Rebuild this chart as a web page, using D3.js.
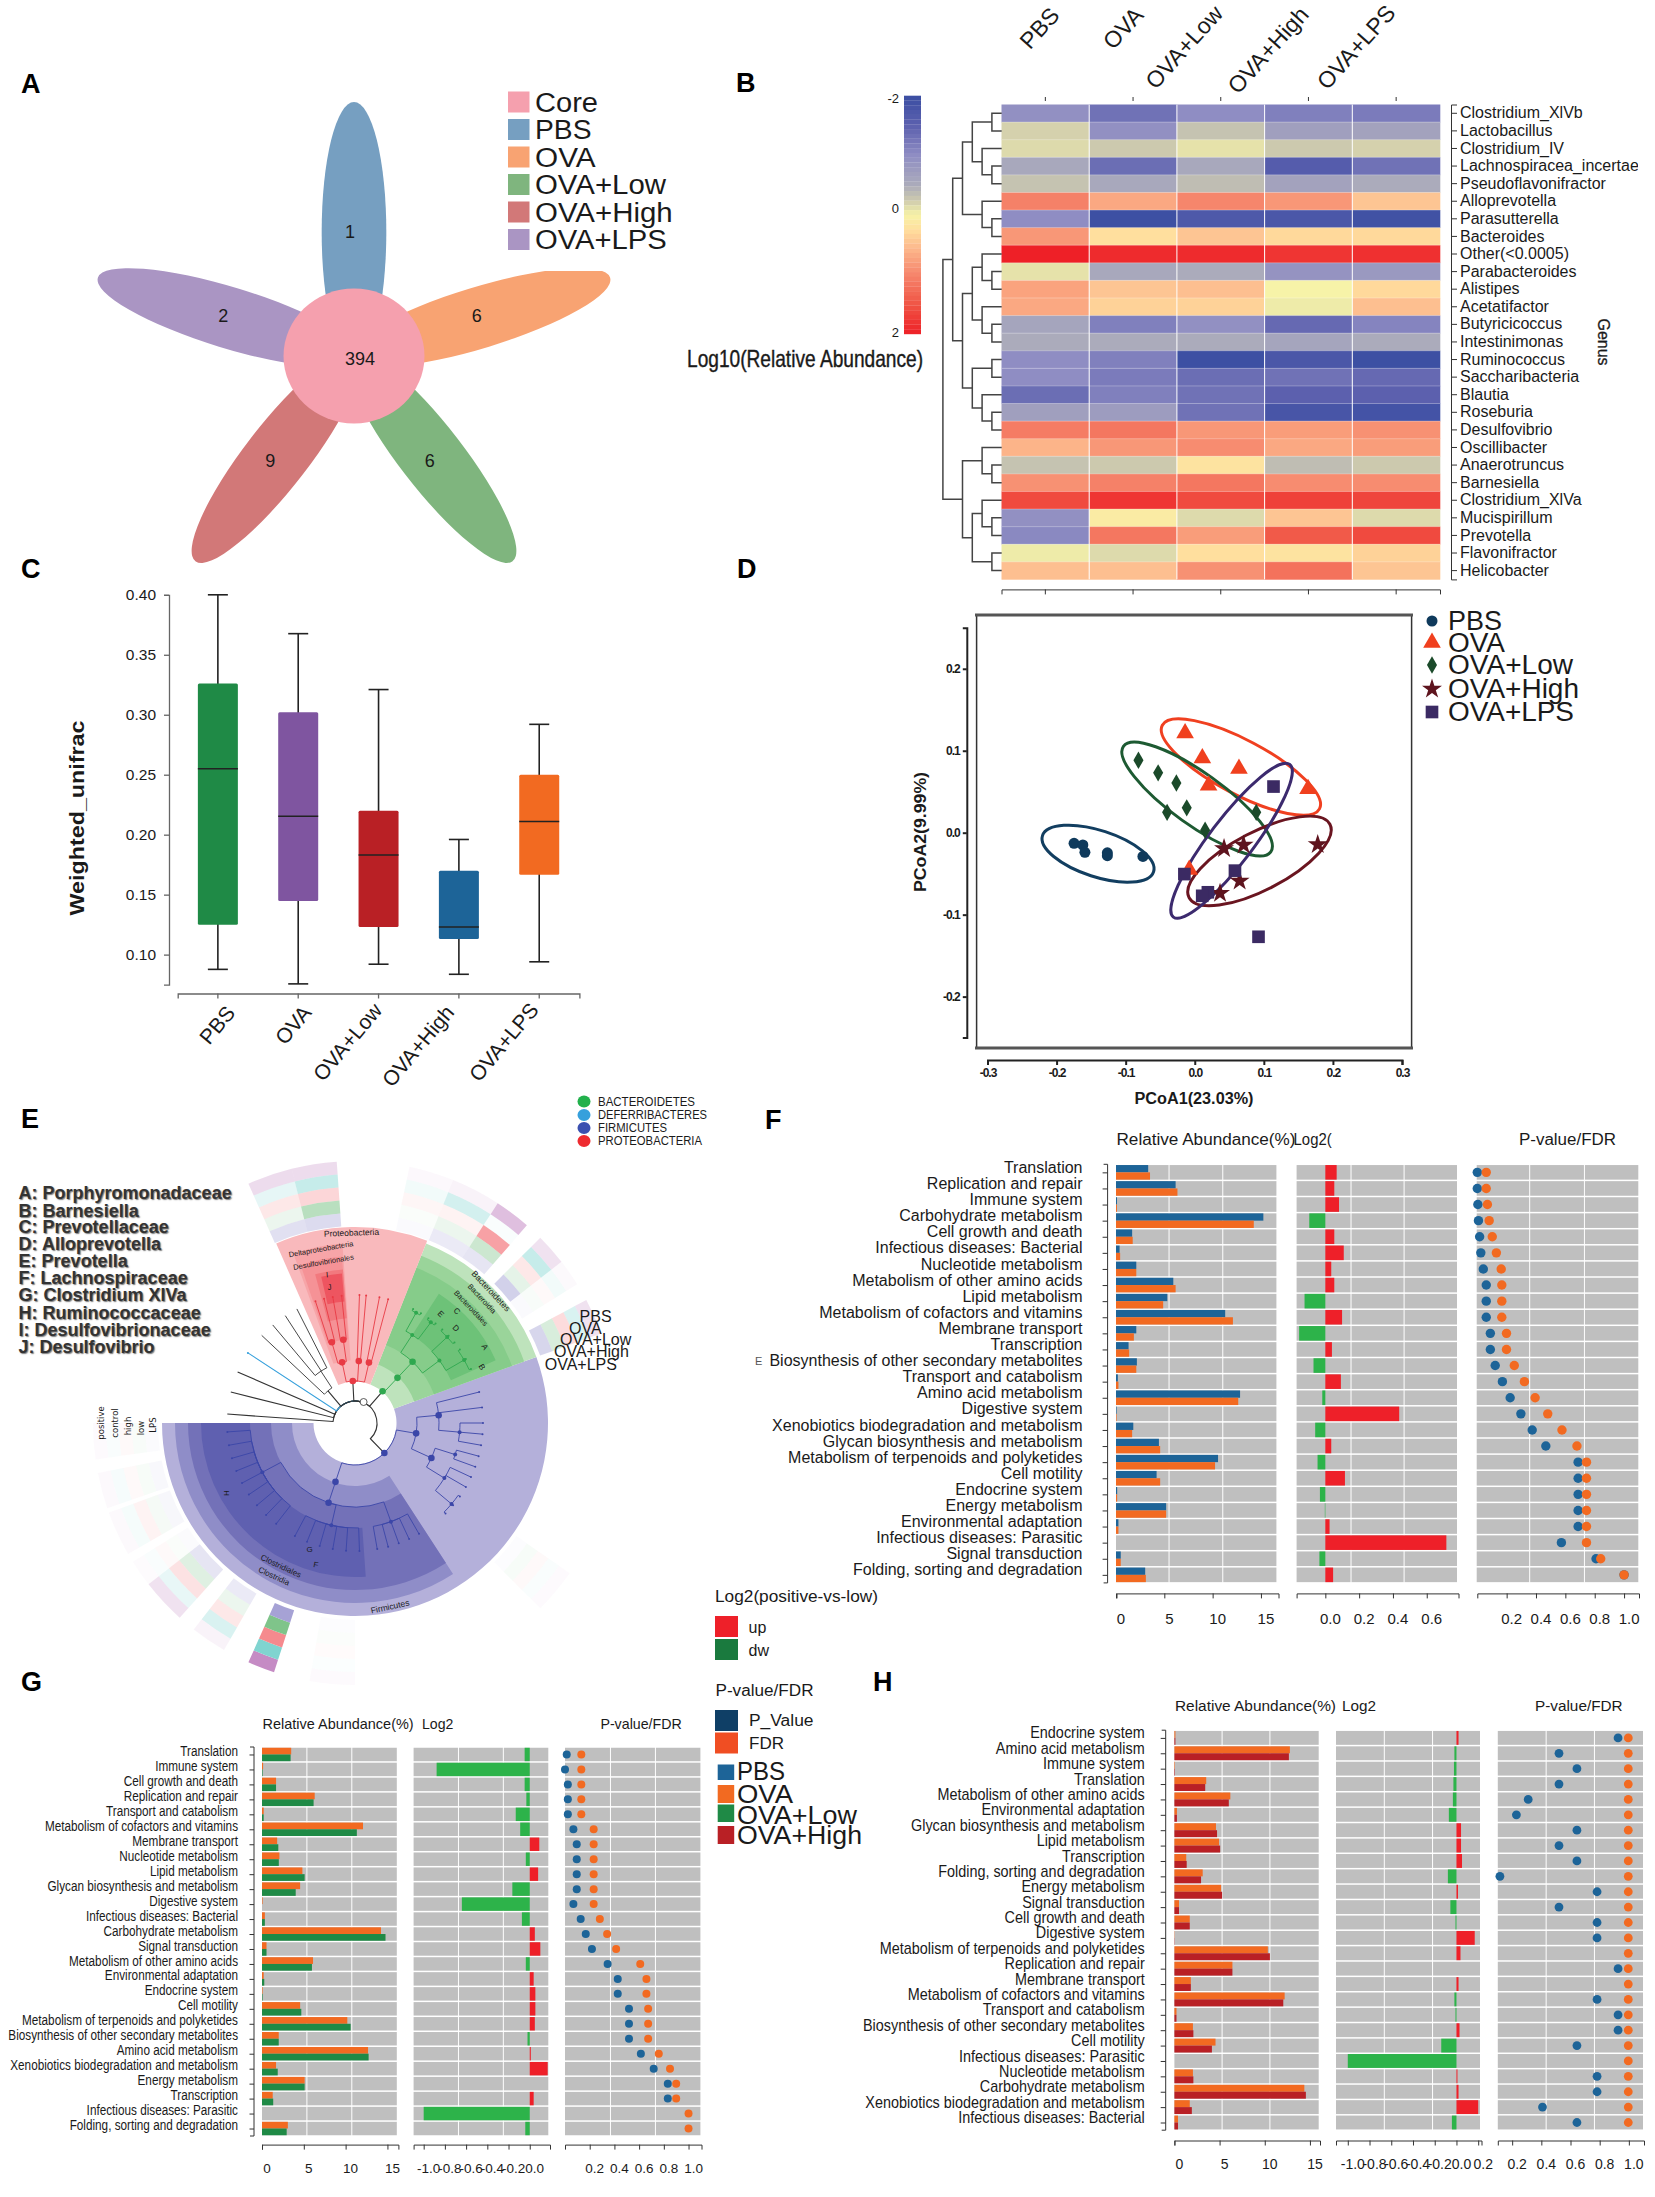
<!DOCTYPE html>
<html><head><meta charset="utf-8">
<script src="https://cdnjs.cloudflare.com/ajax/libs/d3/7.8.5/d3.min.js"></script>
<style>html,body{margin:0;padding:0;background:#fff}svg{display:block}text{font-family:"Liberation Sans",Arial,sans-serif;fill:#1a1a1a}</style>
</head><body><svg id="c" width="1655" height="2197" viewBox="0 0 1655 2197"></svg>
<script>
// ---------- Panel A
const vennNames=["PBS","OVA","OVA+Low","OVA+High","OVA+LPS"];
const vennCounts=[1,6,6,9,2];
const vennCore=394;
const vennColors=["#769FC1","#F8A372","#7FB57E","#D27878","#AA95C3"];
const coreColor="#F5A0AE";
// ---------- Panel B
const genera=["Clostridium_XlVb","Lactobacillus","Clostridium_IV","Lachnospiracea_incertae","Pseudoflavonifractor","Alloprevotella","Parasutterella","Bacteroides","Other(<0.0005)","Parabacteroides","Alistipes","Acetatifactor","Butyricicoccus","Intestinimonas","Ruminococcus","Saccharibacteria","Blautia","Roseburia","Desulfovibrio","Oscillibacter","Anaerotruncus","Barnesiella","Clostridium_XlVa","Mucispirillum","Prevotella","Flavonifractor","Helicobacter"];
const heatPBS=[-.95,-.2,-.15,-.55,-.3,1.05,-1,.85,2,-.1,.75,.7,-.6,-.5,-1,-1,-1.35,-.7,1.1,.6,-.3,.9,1.6,-.95,-1.05,-.05,.5];
const heatOVA=[-1.3,-.95,-.25,-1.35,-.55,.7,-1.95,.25,1.9,-.55,.45,.35,-1.15,-.5,-1.15,-1.2,-1.15,-.75,1.15,.85,-.25,1.05,1.8,.1,1.15,-.15,.5];
const heatLow=[-1,-.3,-.1,-.55,-.35,1,-1.7,.45,1.9,-.5,.5,.35,-.95,-.5,-1.95,-1.35,-1.3,-1.3,.85,.95,.2,1.15,1.6,-.15,.8,.25,.9];
const heatHigh=[-1.15,-.7,-.25,-1.6,-.65,.85,-1.75,.3,1.8,-.9,0,-.05,-1.4,-.6,-1.75,-1.3,-1.5,-1.8,.8,.7,-.35,.95,1.7,.45,1.45,.2,1.2];
const heatLPS=[-1.2,-.65,-.2,-1.3,-.5,.45,-1.9,.3,1.85,-.8,.3,.5,-1.1,-.5,-1.95,-1.4,-1.5,-1.85,.9,.8,-.25,.95,1.65,-.15,1.6,.35,.45];
const dendro=[6,[5,[4,[3,[1,0,1],[2,2,[1,3,4]]],[2,5,[1,6,7]]],[4,[3,[2,8,[1,9,10]],[2,11,[1,12,13]]],[3,[1,14,15],[2,16,[1,17,18]]]]],[4,[2,19,[1,20,21]],[3,[2,22,[1,23,24]],[1,25,26]]]];
// ---------- Panel C
const boxGroups=["PBS","OVA","OVA+Low","OVA+High","OVA+LPS"];
const boxLow=[.0877,.0756,.092,.0836,.094];
const boxQ1=[.125,.1448,.123,.113,.1666];
const boxMed=[.255,.2154,.183,.123,.211];
const boxQ3=[.326,.302,.22,.17,.25];
const boxHigh=[.40,.3676,.321,.196,.292];
const boxColors=["#1F8A46","#7F55A0","#B92025","#1D6498","#F26A21"];
// ---------- Panel D
const pcoaGroups=["PBS","OVA","OVA+Low","OVA+High","OVA+LPS"];
const pcoaColors=["#0F3A5C","#F0401E","#1B4A2A","#5E141E","#3B2A63"];
const ringColors=["#123E60","#F04020","#1D5A32","#6A1520","#3C2A6E"];
const pcoaPBS=[[-.1747,-.013],[-.162,-.015],[-.159,-.024],[-.1265,-.0245],[-.1265,-.028],[-.075,-.029]];
const pcoaOVA=[[-.014,.1215],[.011,.091],[.064,.078],[.02,.0576],[.164,.0534],[-.008,-.045]];
const pcoaLow=[[-.0815,.0883],[-.053,.073],[-.0266,.0606],[-.0116,.0303],[-.04,.0248],[.015,.003],[.089,.0248]];
const pcoaHigh=[[.0424,-.0193],[.0707,-.015],[.178,-.0143],[.065,-.0589],[.0366,-.074]];
const pcoaLPS=[[.114,.0563],[.0582,-.0463],[-.015,-.0505],[.019,-.0727],[.0108,-.077],[.0923,-.127]];
const ellipseCx=[-.14,.0668,.0034,.0937,.0533];
const ellipseCy=[-.0256,.0801,.0411,-.0345,-.0098];
// ---------- Panel E
const families=["A: Porphyromonadaceae","B: Barnesiella","C: Prevotellaceae","D: Alloprevotella","E: Prevotella","F: Lachnospiraceae","G: Clostridium XIVa","H: Ruminococcaceae","I: Desulfovibrionaceae","J: Desulfovibrio"];
const phyla=["BACTEROIDETES","DEFERRIBACTERES","FIRMICUTES","PROTEOBACTERIA"];
const phylaColors=["#22B14C","#36A0DC","#3B50B0","#EE2B30"];
const heatRingNames=["positive","control","high","low","LPS"];
const heatRingColors=["#C58BC4","#80D4D0","#F58A8E","#7FC48A","#9C98D0"];
// angle start, angle end, then strength for positive..LPS
const ringStrips=[[-24,-14,.3,.2,.2,.15,.3],[-14,-4,.3,.45,.35,.55,.35],[12,22,.06,.1,.08,.04,.05],[22,33,.1,.35,.1,.15,.2],[33,41,.55,.05,.8,.4,.25],[45,52,.25,.45,.2,.2,.45],[52,58,.05,.1,.05,.05,.05],[62,70,.25,.3,.3,.3,.4],[125,135,.04,.05,.05,.06,.03],[180,190,.04,.03,.03,.03,.03],[198,204,1,1,1,1,.9],[210,218,.1,.3,.2,.15,.2],[222,232,.25,.18,.25,.25,.25],[232,238,.03,.05,.05,.04,.04],[240,250,.05,.08,.1,.08,.08],[251,259,.05,.07,.05,.06,.07],[262,270,.04,.05,.05,.05,.04]];
const cladeTree=[-86,-76,-66.5,-56.8,[-46.8,[-40,-33,-27]],[[[-18,-14],[-10,-6]],[2,5],[11,15]],[[[[[27,31],[35,39]],[[43,47,51],[55,60,65]]]]],[[[76,83,[90,95,100]],[[105,110],[115,120,[125,130,135]]]],[[[150,155,160,165,170],[178,184,190,196,202,208],[218,224,230,236,242,248,254,260,266]]]]];
const cladeColors=["#333","#333","#333","#36A0DC","#333","#E83A44","#2FA84F","#3B46A8"];
const phylumAngles=[null,null,null,null,null,-3,41,135.7];
// ---------- Panels F G H
const fNames=["Translation","Replication and repair","Immune system","Carbohydrate metabolism","Cell growth and death","Infectious diseases: Bacterial","Nucleotide metabolism","Metabolism of other amino acids","Lipid metabolism","Metabolism of cofactors and vitamins","Membrane transport","Transcription","Biosynthesis of other secondary metabolites","Transport and catabolism","Amino acid metabolism","Digestive system","Xenobiotics biodegradation and metabolism","Glycan biosynthesis and metabolism","Metabolism of terpenoids and polyketides","Cell motility","Endocrine system","Energy metabolism","Environmental adaptation","Infectious diseases: Parasitic","Signal transduction","Folding, sorting and degradation"];
const fPBS=[3.33,6.17,.1,15.25,1.67,.37,2.1,5.93,5.31,11.3,2.1,1.3,2.16,.19,12.84,.06,1.79,4.44,10.56,4.2,.12,5.19,.25,0,.49,3.02];
const fOVA=[3.52,6.36,.1,14.26,1.73,.43,2.1,6.17,4.88,12.1,1.85,1.36,2.1,.25,12.65,.06,1.67,4.57,10.25,4.57,.12,5.19,.25,0,.49,3.09];
const fLog=[.067,.053,.081,-.095,.053,.109,.035,.053,-.123,.099,-.155,.039,-.07,.092,-.018,.437,-.06,.035,-.046,.116,-.032,-.003,.025,.716,-.035,.046];
const fP=[0,0,.004,.008,.016,.024,.041,.061,.061,.061,.089,.089,.122,.171,.224,.297,.374,.467,.687,.687,.687,.687,.687,.573,.809,1];
const fFDR=[.061,.061,.069,.081,.102,.13,.163,.167,.167,.167,.199,.199,.252,.321,.394,.48,.577,.679,.744,.744,.744,.744,.744,.744,.841,1];
const gNames=["Translation","Immune system","Cell growth and death","Replication and repair","Transport and catabolism","Metabolism of cofactors and vitamins","Membrane transport","Nucleotide metabolism","Lipid metabolism","Glycan biosynthesis and metabolism","Digestive system","Infectious diseases: Bacterial","Carbohydrate metabolism","Signal transduction","Metabolism of other amino acids","Environmental adaptation","Endocrine system","Cell motility","Metabolism of terpenoids and polyketides","Biosynthesis of other secondary metabolites","Amino acid metabolism","Xenobiotics biodegradation and metabolism","Energy metabolism","Transcription","Infectious diseases: Parasitic","Folding, sorting and degradation"];
const gOVA=[3.49,.13,1.68,6.3,.2,12.08,1.81,2.08,4.83,4.56,.07,.34,14.23,.54,6.1,.2,.07,4.56,10.2,2,12.68,1.68,5.1,1.28,0,3.09];
const gLow=[3.42,.07,1.68,6.17,.2,11.34,1.95,2.01,5.1,4.03,0,.34,14.77,.54,5.97,.27,.07,4.7,10.6,2,12.75,1.88,5.1,1.34,0,2.95];
const gLog=[-.048,-.878,-.048,-.032,-.132,-.09,.09,-.037,.079,-.164,-.64,-.074,.048,.1,-.037,.037,.053,.053,.048,-.021,.01,.169,0,.037,-1,-.042];
const gP=[.014,0,.023,.023,.023,.068,.095,.095,.095,.095,.068,.127,.168,.218,.345,.427,.427,.518,.518,.518,.614,.718,.832,.832,null,null];
const gFDR=[.132,.132,.132,.132,.132,.232,.232,.232,.232,.232,.232,.282,.341,.414,.609,.659,.659,.673,.673,.673,.759,.85,.9,.9,1,1];
const hNames=["Endocrine system","Amino acid metabolism","Immune system","Translation","Metabolism of other amino acids","Environmental adaptation","Glycan biosynthesis and metabolism","Lipid metabolism","Transcription","Folding, sorting and degradation","Energy metabolism","Signal transduction","Cell growth and death","Digestive system","Metabolism of terpenoids and polyketides","Replication and repair","Membrane transport","Metabolism of cofactors and vitamins","Transport and catabolism","Biosynthesis of other secondary metabolites","Cell motility","Infectious diseases: Parasitic","Nucleotide metabolism","Carbohydrate metabolism","Xenobiotics biodegradation and metabolism","Infectious diseases: Bacterial"];
const hOVA=[.11,12.78,.06,3.52,6.19,.28,4.6,4.94,1.31,3.13,5.17,.51,1.7,.03,10.34,6.42,1.82,12.2,.23,2.05,4.55,0,2.05,14.38,1.7,.4];
const hHigh=[.11,12.67,.06,3.41,6.02,.28,4.72,5.06,1.36,2.95,5.28,.51,1.7,.03,10.57,6.42,1.82,12.05,.23,2.1,4.15,0,2.1,14.55,1.93,.4];
const hLog=[.019,-.019,-.023,-.028,-.033,-.07,.042,.042,.051,-.079,.014,-.056,-.009,.168,.037,0,.019,-.019,-.009,.028,-.14,-1,.009,.019,.2,-.042];
const hP=[.926,.521,.644,.521,.31,.229,.644,.521,.644,.116,.782,.521,.782,.782,null,.926,null,.782,.926,.926,.644,null,.782,.782,.408,.644];
const hFDR=[.996,.996,.996,.996,.996,.996,.996,.996,.996,.996,.996,.996,.996,.996,.996,.996,.996,.996,.996,.996,.996,.996,.996,.996,.996,.996];
const C={blue:"#1D6498",orange:"#F26A21",green:"#1F8A46",red:"#B92025",up:"#EE2029",dn:"#2DB34A"};

const svg=d3.select("#c");
function T(g,txt,x,y,o={}){
  const t=g.append("text").text(txt).attr("dy",o.dy||"0.35em").attr("font-size",o.s||14)
   .attr("text-anchor",o.a||"start").attr("font-weight",o.w||"normal");
  let tr=`translate(${x},${y})`; if(o.r)tr+=` rotate(${o.r})`; if(o.sx)tr+=` scale(${o.sx},1)`;
  t.attr("transform",tr);
  if(o.fill)t.style("fill",o.fill);
  if(o.len)t.attr("textLength",o.len).attr("lengthAdjust","spacingAndGlyphs");
  if(o.shadow)t.style("text-shadow","1px 1px 1.2px #777");
  if(o.heavy)t.style("stroke","#1a1a1a").style("stroke-width",o.heavy);
  return t;
}
// panel letters
[["A",21,93],["B",736,92],["C",21,578],["D",737,578],["E",21,1128],["F",765,1129],["G",21,1691],["H",873,1691]].forEach(d=>T(svg,d[0],d[1],d[2],{s:27,w:"bold",dy:"0",fill:"#000"}));

// ================= A
(function(){
 const g=svg.append("g"),cx=354,cy=356;
 svg.append("clipPath").attr("id","ovaClip").append("rect").attr("x",400).attr("y",271).attr("width",300).attr("height",200);
 vennNames.forEach((n,i)=>{
   const gp=g.append("g"); if(i==1)gp.attr("clip-path","url(#ovaClip)");
   gp.append("ellipse").attr("cx",0).attr("cy",-124).attr("rx",30.5).attr("ry",130).attr("fill",vennColors[i])
    .attr("transform",`translate(${cx},${cy}) scale(1.06,1) rotate(${i*72})`);
 });
 g.append("ellipse").attr("cx",cx).attr("cy",cy).attr("rx",70.5).attr("ry",67.5).attr("fill",coreColor);
 const pos=d3.scalePoint().domain(d3.range(5)).range([0,288]);
 vennCounts.forEach((c,i)=>{
   const [dx,dy]=d3.pointRadial(pos(i)*Math.PI/180,i==0?124:129);
   T(g,c,cx+dx-(i==0?4:i>=3?8:0),cy+dy,{s:18,a:"middle"});
 });
 T(g,vennCore,360,359,{s:18,a:"middle"});
 const names=["Core"].concat(vennNames),cols=[coreColor].concat(vennColors),lens=[63,56.5,60.6,131,137.7,131.8];
 const yy=d3.scalePoint().domain(d3.range(6)).range([102,239.5]);
 names.forEach((n,i)=>{
  g.append("rect").attr("x",508).attr("y",yy(i)-10.5).attr("width",21.5).attr("height",21).attr("fill",cols[i]);
  T(g,n,535,yy(i)+.5,{s:27,len:lens[i]});
 });
})();

// ================= B
(function(){
 const g=svg.append("g");
 const heat=[heatPBS,heatOVA,heatLow,heatHigh,heatLPS];
 const color=d3.scaleLinear().domain([-2,-1.5,-1,-.5,-.25,0,.25,.5,1,1.5,2])
  .range(["#3A4EA2","#5C60AE","#8F8DC3","#ABABBB","#CCC9AE","#F7F3A8","#FFDF9E","#FDBF90","#F6866C","#F05545","#EE2027"]);
 const x=d3.scaleBand().domain(vennNames).range([1001.5,1440]);
 const y=d3.scaleBand().domain(genera).range([104.5,579.4]);
 vennNames.forEach((c,j)=>genera.forEach((r,i)=>{
  g.append("rect").attr("x",x(c)).attr("y",y(r)).attr("width",x.bandwidth()+.3).attr("height",y.bandwidth()+.3).attr("fill",color(heat[j][i]));
 }));
 vennNames.slice(1).forEach(c=>g.append("line").attr("x1",x(c)).attr("x2",x(c)).attr("y1",104.5).attr("y2",579.4).attr("stroke","#fff").attr("stroke-width",1));
 genera.slice(1).forEach(r=>g.append("line").attr("x1",1001.5).attr("x2",1440).attr("y1",y(r)).attr("y2",y(r)).attr("stroke","#fff").attr("stroke-opacity",.35).attr("stroke-width",.8));
 const ax=sel=>sel.selectAll("path,line").attr("stroke","#333");
 g.append("g").attr("transform","translate(0,101)").call(d3.axisTop(x).tickSize(4).tickFormat("")).call(ax).select("path").attr("stroke","none");
 g.append("g").attr("transform","translate(0,589.4)").call(d3.axisBottom(x).tickSize(5).tickFormat("")).call(ax);
 svg.append("clipPath").attr("id","genClip").append("rect").attr("x",1440).attr("y",90).attr("width",198).attr("height",500);
 const ra=g.append("g").attr("clip-path","url(#genClip)").append("g").attr("transform","translate(1451,0)").call(d3.axisRight(y).tickSize(6).tickPadding(3));
 ra.call(ax); ra.selectAll("text").attr("font-size",16).attr("font-family","Liberation Sans");
 T(g,"Genus",1603.5,342,{s:16,a:"middle",r:90,heavy:.3});
 [[1039.5,28],[1123,28],[1184,47],[1268,50],[1356,47]].forEach((p,i)=>T(g,vennNames[i],p[0],p[1],{s:23,a:"middle",r:-48}));
 const root=d3.hierarchy(dendro,d=>Array.isArray(d)?d.slice(1):null);
 const lx=d3.scaleLinear().domain([0,6]).range([1001.7,942.9]);
 root.eachAfter(n=>{
  if(!n.children){n.py=y(genera[n.data])+y.bandwidth()/2;n.px=lx(0);}
  else{n.py=d3.mean(n.children,c=>c.py);n.px=lx(n.data[0]);}
 });
 root.descendants().forEach(n=>{ if(n.children){
  const p=d3.path(); p.moveTo(n.children[0].px,n.children[0].py); p.lineTo(n.px,n.children[0].py); p.lineTo(n.px,n.children[1].py); p.lineTo(n.children[1].px,n.children[1].py);
  g.append("path").attr("d",p.toString()).attr("fill","none").attr("stroke","#444").attr("stroke-width",1.5);
 }});
 const cb=d3.scaleLinear().domain([-2,2]).range([95.7,334]);
 d3.range(-2,2,.08).forEach(v=>g.append("rect").attr("x",904).attr("width",17).attr("y",cb(v)).attr("height",cb(v+.08)-cb(v)+.2).attr("fill",color(v+.04)));
 [["-2",98],["0",208],["2",332]].forEach(d=>T(g,d[0],899,d[1],{s:13,a:"end"}));
 T(g,"Log10(Relative Abundance)",687,358.6,{s:24,len:236,heavy:.4});
})();

// ================= C
(function(){
 const g=svg.append("g");
 const y=d3.scaleLinear().domain([.075,.40]).range([984.6,594.8]);
 const x=d3.scaleBand().domain(boxGroups).range([177.7,579.4]);
 const ya=g.append("g").attr("transform","translate(169,0)").call(d3.axisLeft(y).tickValues([.1,.15,.2,.25,.3,.35,.4]).tickFormat(d3.format(".2f")).tickSize(5).tickPadding(8));
 const xa=g.append("g").attr("transform","translate(0,993.5)").call(d3.axisBottom(x).tickFormat("").tickSize(5));
 [ya,xa].forEach(a=>a.selectAll("path,line").attr("stroke","#666").attr("stroke-width",1.3));
 ya.selectAll("text").attr("font-size",15.5).attr("font-family","Liberation Sans");
 const bw=40,cw=10;
 boxGroups.forEach((b,i)=>{
  const c=x(b)+x.bandwidth()/2;
  const L=(a,b1,x1,x2,w)=>g.append("line").attr("x1",x1).attr("x2",x2).attr("y1",y(a)).attr("y2",y(b1)).attr("stroke","#222").attr("stroke-width",w||1.6);
  L(boxLow[i],boxHigh[i],c,c);
  L(boxLow[i],boxLow[i],c-cw,c+cw); L(boxHigh[i],boxHigh[i],c-cw,c+cw);
  g.append("rect").attr("x",c-bw/2).attr("y",y(boxQ3[i])).attr("width",bw).attr("height",y(boxQ1[i])-y(boxQ3[i])).attr("rx",1.5).attr("fill",boxColors[i]);
  L(boxMed[i],boxMed[i],c-bw/2,c+bw/2);
 });
 T(g,"Weighted_unifrac",77,818,{s:21,a:"middle",r:-90,w:"bold",len:195});
 [[217,1025],[293,1025],[347.5,1042],[418,1046],[503.7,1042]].forEach((p,i)=>T(g,boxGroups[i],p[0],p[1],{s:21,a:"middle",r:-50}));
})();

// ================= D
(function(){
 const g=svg.append("g");
 const x=d3.scaleLinear().domain([-.3,.3]).range([987.5,1402]);
 const y=d3.scaleLinear().domain([-.25,.25]).range([1037.6,627.8]);
 g.append("rect").attr("x",976.6).attr("y",615).attr("width",435).attr("height",433).attr("fill","none").attr("stroke","#333").attr("stroke-width",1.5);
 [615,1048].forEach(v=>g.append("line").attr("x1",975).attr("x2",1413).attr("y1",v).attr("y2",v).attr("stroke","#555").attr("stroke-width",3.2));
 const fmt=v=>d3.format(".1f")(v).replace("−","-");
 const ya=g.append("g").attr("transform","translate(966.8,0)").call(d3.axisLeft(y).tickValues([-.2,-.1,0,.1,.2]).tickFormat(fmt).tickSize(4).tickPadding(3));
 const xa=g.append("g").attr("transform","translate(0,1060)").call(d3.axisBottom(x).tickValues([-.3,-.2,-.1,0,.1,.2,.3]).tickFormat(fmt).tickSize(5).tickPadding(3));
 [ya,xa].forEach(a=>{a.selectAll("path,line").attr("stroke","#222").attr("stroke-width",2);
  a.selectAll("text").attr("font-size",12).attr("font-weight","bold").attr("font-family","Liberation Sans").style("letter-spacing","-1px");});
 T(g,"PCoA1(23.03%)",1194,1098,{s:16,w:"bold",a:"middle",len:119});
 T(g,"PCoA2(9.99%)",920,832,{s:16,w:"bold",a:"middle",r:-90,len:120});
 const axes=[[58.4,23.2,18],[89,27,28],[90.6,26,35.6],[79.4,29,-27.5],[96,22,-52.7]];
 pcoaGroups.forEach((n,i)=>g.append("ellipse").attr("rx",axes[i][0]).attr("ry",axes[i][1])
  .attr("transform",`translate(${x(ellipseCx[i])},${y(ellipseCy[i])}) rotate(${axes[i][2]})`)
  .attr("fill","none").attr("stroke",ringColors[i]).attr("stroke-width",3));
 const sym=[d3.symbol().type(d3.symbolCircle).size(95)(),d3.symbol().type(d3.symbolTriangle).size(135)(),d3.symbol().type(d3.symbolDiamond).size(88)(),d3.symbol().type(d3.symbolStar).size(124)(),d3.symbol().type(d3.symbolSquare).size(160)()];
 [pcoaPBS,pcoaOVA,pcoaLow,pcoaHigh,pcoaLPS].forEach((pts,i)=>pts.forEach(p=>
   g.append("path").attr("d",sym[i]).attr("transform",`translate(${x(p[0])},${y(p[1])})`).attr("fill",pcoaColors[i])));
 const ly=[621,642.6,665,689,712],ll=[54,57,125,131,126];
 pcoaGroups.forEach((n,i)=>{
   g.append("path").attr("d",sym[i]).attr("transform",`translate(1432,${ly[i]})`).attr("fill",pcoaColors[i]);
   T(g,n,1448,ly[i],{s:27,len:ll[i]});
 });
})();

// ================= E
(function(){
 const g=svg.append("g").attr("transform","translate(355,1423)");
 const rad=a=>a*Math.PI/180;
 const arc=d3.arc();
 const sec=(r0,r1,a0,a1,f)=>g.append("path").attr("d",arc({innerRadius:r0,outerRadius:r1,startAngle:rad(a0),endAngle:rad(a1)})).attr("fill",f);
 const ringR=d3.scaleBand().domain(heatRingNames).range([262,197]);
 ringStrips.forEach(s=>heatRingNames.forEach((n,i)=>{
   g.append("path").attr("d",arc({innerRadius:ringR(n),outerRadius:ringR(n)+ringR.bandwidth(),startAngle:rad(s[0]),endAngle:rad(s[1])}))
    .attr("fill",heatRingColors[i]).attr("fill-opacity",s[2+i]);
 }));
 sec(41.5,193,70,270,"#B4B0DA");
 sec(63,180,147,270,"#8F8DC8"); sec(84,167,147,270,"#7371B8"); sec(105,154,176,270,"#5F60B0");
 sec(41.5,193,21.6,70,"#BEE3BC"); sec(63,180,21.6,70,"#9AD49A"); sec(84,167,21.6,70,"#86CC8A"); sec(105,154,33,66,"#6DC278");
 sec(41.5,196,-23.7,21.6,"#F9B9BC"); sec(63,180,-20,-4,"#F7A5A8"); sec(84,167,-19,-4.5,"#F59296"); sec(105,154,-15,-4.5,"#F2797E"); sec(122,150,-13,-5,"#EE5560");
 const R=[22,42,62,84,105,126,126];
 const leafR=128;
 const root=d3.hierarchy(cladeTree,d=>Array.isArray(d)?d:null);
 root.children.forEach((c,i)=>c.descendants().forEach(n=>n.col=cladeColors[i]));
 root.col="#333";
 root.eachAfter(n=>{ if(!n.children){n.a=n.data;n.r=leafR;} else {n.a=d3.mean(n.children,c=>c.a);n.r=R[n.depth];} });
 root.a=22;
 root.children.forEach((c,i)=>{if(phylumAngles[i]!==null)c.a=phylumAngles[i];});
 root.descendants().forEach(n=>{ if(n.parent){
   const p=n.parent,pth=d3.path(),s=d3.pointRadial(rad(p.a),p.r);
   pth.moveTo(s[0],s[1]);
   pth.arc(0,0,p.r,rad(p.a-90),rad(n.a-90),n.a<p.a);
   const e=d3.pointRadial(rad(n.a),n.r); pth.lineTo(e[0],e[1]);
   g.append("path").attr("d",pth.toString()).attr("fill","none").attr("stroke",(n.depth==1&&n.col!=="#36A0DC")?"#333":n.col).attr("stroke-width",n.depth<=1?1.1:.9);
 }});
 root.descendants().forEach(n=>{ if(n.depth>0&&n.col!=="#333"){
   const p=d3.pointRadial(rad(n.a),n.r);
   const r=n.children?(n.depth<=3?3.3:2):1;
   g.append("circle").attr("cx",p[0]).attr("cy",p[1]).attr("r",r).attr("fill",n.col);
 }});
 g.append("circle").attr("cx",8.6).attr("cy",-21).attr("r",3.5).attr("fill","#fff").attr("stroke","#333").attr("stroke-width",.8);
 const L=(t,x,y,r,s)=>T(svg,t,x,y,{s:s||8.5,a:"middle",r:r});
 L("Proteobacteria",351.5,1232.7,-2);L("Deltaproteobacteria",321,1249,-10,7.5);L("Desulfovibrionales",323.5,1262,-10,7.5);L("I",327,1274.5,-5,8);L("J",329.6,1287,-5,8);
 L("Bacteroidetes",491,1291,47);L("Bacteroidia",482,1298.6,47,7.5);L("Bacteroidales",471,1308,47,7.5);
 L("E",441,1314,45,8);L("C",457,1311,45,8);L("D",456,1328,45,8);L("A",485,1347,60,8);L("B",482,1367,60,8);
 L("Clostridiales",281,1566,25,8);L("Clostridia",274,1576,25,8);L("Firmicutes",390,1606.6,-12);L("H",226,1493,-90,8);L("F",316,1564.6,10,8);L("G",309.6,1549,0,8);
 [[101.5,1423],[115,1423],[128,1426],[140.6,1428],[152.7,1425]].forEach((p,i)=>T(svg,heatRingNames[i],p[0],p[1],{s:8.5,a:"middle",r:-90}).style("font-family","DejaVu Sans"));
 const fy=[1193,1210.5,1227,1244,1261,1278,1295,1313,1330,1347];
 families.forEach((f,i)=>T(svg,f,18.6,fy[i],{s:18,w:"bold",shadow:true,fill:"#333"}));
 const py=[1101.5,1115,1128,1141],pl=[97,109,69,104];
 phyla.forEach((p,i)=>{svg.append("ellipse").attr("cx",584).attr("cy",py[i]).attr("rx",6.5).attr("ry",6).attr("fill",phylaColors[i]);
   T(svg,p,598,py[i],{s:12,len:pl[i]});});
 [["PBS",579.6,1316.6],["OVA",569,1328],["OVA+Low",560,1339.5],["OVA+High",554,1351],["OVA+LPS",544.7,1364.4]].forEach(d=>T(svg,d[0],d[1],d[2],{s:16}));
})();

// ================= F G H
function pathway(o){
 const g=svg.append("g");
 const rows=d3.scaleBand().domain(d3.range(o.names.length)).range([o.top,o.bottom]);
 const pitch=rows.bandwidth(),rh=pitch-1.5;
 const cy=i=>rows(i)+pitch/2;
 const panels=o.panels.map(p=>{
   const sc=d3.scaleLinear().domain(p.dom).range(p.rng);
   o.names.forEach((n,i)=>g.append("rect").attr("x",p.rng[0]).attr("width",p.rng[1]-p.rng[0]).attr("y",cy(i)-rh/2).attr("height",rh).attr("fill","#BFBFBF"));
   p.grid.forEach(v=>g.append("line").attr("x1",sc(v)).attr("x2",sc(v)).attr("y1",o.top).attr("y2",o.bottom).attr("stroke","#fff").attr("stroke-width",1));
   const axS=d3.scaleLinear().domain([sc.invert(p.ax[0]),sc.invert(p.ax[1])]).range(p.ax);
   const a=g.append("g").attr("transform",`translate(0,${o.axisY})`).call(d3.axisBottom(axS).tickValues(p.ticks).tickSize(5).tickFormat(d=>d3.format(p.fmt)(d).replace("−","-")));
   a.selectAll("path,line").attr("stroke","#333");
   a.selectAll("text").attr("font-size",o.tickS).attr("font-family","Liberation Sans").attr("x",o.tickDx).attr("y",o.tickY-o.axisY).attr("dy","0.35em").attr("fill","#1a1a1a");
   return sc;
 });
 o.names.forEach((n,i)=>T(g,n,o.labelX,cy(i)+o.labelDy,{s:o.labelS,a:"end",sx:o.labelSx}));
 const br=d3.scalePoint().domain(o.names).range([cy(0),cy(o.names.length-1)]);
 const ba=g.append("g").attr("transform",`translate(${o.bracket},0)`).call(d3.axisLeft(br).tickSize(o.tickL).tickFormat(""));
 ba.selectAll("line").attr("stroke","#333"); ba.select("path").remove();
 g.append("path").attr("d",`M${o.bracket-4},${o.top}H${o.bracket}V${o.bottom}H${o.bracket-4}`).attr("fill","none").attr("stroke","#333");
 const [x1,x2,x3]=panels;
 o.names.forEach((n,i)=>{
  g.append("rect").attr("x",x1(0)).attr("y",cy(i)-rh/2).attr("width",x1(o.a[i])-x1(0)).attr("height",rh/2).attr("fill",o.colA);
  g.append("rect").attr("x",x1(0)).attr("y",cy(i)).attr("width",x1(o.b[i])-x1(0)).attr("height",rh/2).attr("fill",o.colB);
  const v=o.log[i];
  g.append("rect").attr("x",Math.min(x2(0),x2(v))).attr("y",cy(i)-rh/2).attr("width",Math.abs(x2(v)-x2(0))).attr("height",rh).attr("fill",v>=0?C.up:C.dn);
  if(o.p[i]!==null)g.append("circle").attr("cx",x3(o.p[i])).attr("cy",cy(i)).attr("r",o.dotR).attr("fill",C.blue);
  if(o.f[i]!==null)g.append("circle").attr("cx",x3(o.f[i])).attr("cy",cy(i)).attr("r",o.dotR).attr("fill",C.orange);
 });
 o.titles.forEach(t=>T(g,t[0],t[1],o.titleY,{s:o.titleS,len:t[2]}));
}
const t02=[.2,.4,.6,.8,1];
pathway({names:fNames,a:fPBS,b:fOVA,log:fLog,p:fP,f:fFDR,colA:C.blue,colB:C.orange,top:1164.3,bottom:1582.9,labelX:1082.5,labelDy:-5,labelS:16,labelSx:1,bracket:1107.6,tickL:5,axisY:1593.4,tickY:1618.4,tickS:15,tickDx:4.5,dotR:4.7,titleY:1139,titleS:16,
 titles:[["Relative Abundance(%)",1116.5,179],["Log2(",1293.6,38],["P-value/FDR",1519,97]],
 panels:[{dom:[0,16.6],rng:[1116,1276.4],ax:[1116.5,1278.5],ticks:[0,5,10,15],fmt:"d",grid:[5.49,11.05]},
  {dom:[-.17,.779],rng:[1296.6,1457],ax:[1296.6,1458.5],ticks:[0,.2,.4,.6],fmt:".1f",grid:[.152,.466]},
  {dom:[-.004,1.097],rng:[1476.7,1638.3],ax:[1477.3,1639],ticks:t02,fmt:".1f",grid:[.357,.73]}]});
T(svg,"E",755,1361,{s:11,fill:"#555"});
pathway({names:gNames,a:gOVA,b:gLow,log:gLog,p:gP,f:gFDR,colA:C.orange,colB:C.green,top:1747,bottom:2136,labelX:238,labelDy:-3.5,labelS:14.5,labelSx:.81,bracket:254,tickL:4.5,axisY:2144.6,tickY:2168.6,tickS:13.5,tickDx:4.5,dotR:4,titleY:1724,titleS:15,
 titles:[["Relative Abundance(%)",262.6,151],["Log2",422,31.4],["P-value/FDR",600.4,81.4]],
 panels:[{dom:[0,16.12],rng:[262,396.8],ax:[262,398.4],ticks:[0,5,10,15],fmt:"d",grid:[5.37,10.74]},
  {dom:[-1.095,.175],rng:[413.6,548.3],ax:[413.6,550],ticks:[-1,-.8,-.6,-.4,-.2,0],fmt:".1f",grid:[-.672,-.249]},
  {dom:[0,1.096],rng:[565,700.4],ax:[565,701.5],ticks:t02,fmt:".1f",grid:[.368,.732]}]});
pathway({names:hNames,a:hOVA,b:hHigh,log:hLog,p:hP,f:hFDR,colA:C.orange,colB:C.red,top:1730.2,bottom:2130.2,labelX:1144.7,labelDy:-5,labelS:16,labelSx:.9,bracket:1165.7,tickL:5,axisY:2140.5,tickY:2164,tickS:14,tickDx:4.5,dotR:4.4,titleY:1706,titleS:15.5,
 titles:[["Relative Abundance(%)",1175,161],["Log2",1342,34],["P-value/FDR",1535,87.6]],
 panels:[{dom:[0,15.97],rng:[1174.4,1318.7],ax:[1174.4,1320],ticks:[0,5,10,15],fmt:"d",grid:[5.28,10.57]},
  {dom:[-1.1085,.2166],rng:[1336,1480],ax:[1336,1481.5],ticks:[-1,-.8,-.6,-.4,-.2,0,.2],fmt:".1f",grid:[-.664,-.22]},
  {dom:[.1015,1.097],rng:[1497.8,1643],ax:[1497.8,1644],ticks:t02,fmt:".1f",grid:[.433,.764]}]});

// shared legends
(function(){
 const g=svg.append("g");
 T(g,"Log2(positive-vs-low)",715,1596,{s:16,len:163});
 [["up","#EE2029",1616],["dw","#1A7A3E",1639]].forEach(d=>{
  g.append("rect").attr("x",715).attr("y",d[2]).attr("width",23).attr("height",21).attr("fill",d[1]);
  T(g,d[0],748.6,d[2]+11,{s:16});
 });
 T(g,"P-value/FDR",715.5,1690,{s:16,len:98});
 [["P_Value","#0F3F66",1710,64.5],["FDR","#F04E23",1732.5,35]].forEach(d=>{
  g.append("rect").attr("x",715).attr("y",d[2]).attr("width",23).attr("height",21).attr("fill",d[1]);
  T(g,d[0],749,d[2]+10.5,{s:16,len:d[3]});
 });
 const ln=["PBS","OVA","OVA+Low","OVA+High"],lc=[C.blue,C.orange,C.green,C.red],ly=[1764.5,1785,1804.5,1826],lh=[15.5,18,17.5,18],lt=[1771,1794,1815,1835],lw=[48,56,120,125];
 ln.forEach((n,i)=>{
  g.append("rect").attr("x",717.7).attr("y",ly[i]).attr("width",16.5).attr("height",lh[i]).attr("fill",lc[i]);
  T(g,n,737,lt[i],{s:26,len:lw[i]});
 });
})();
</script></body></html>
